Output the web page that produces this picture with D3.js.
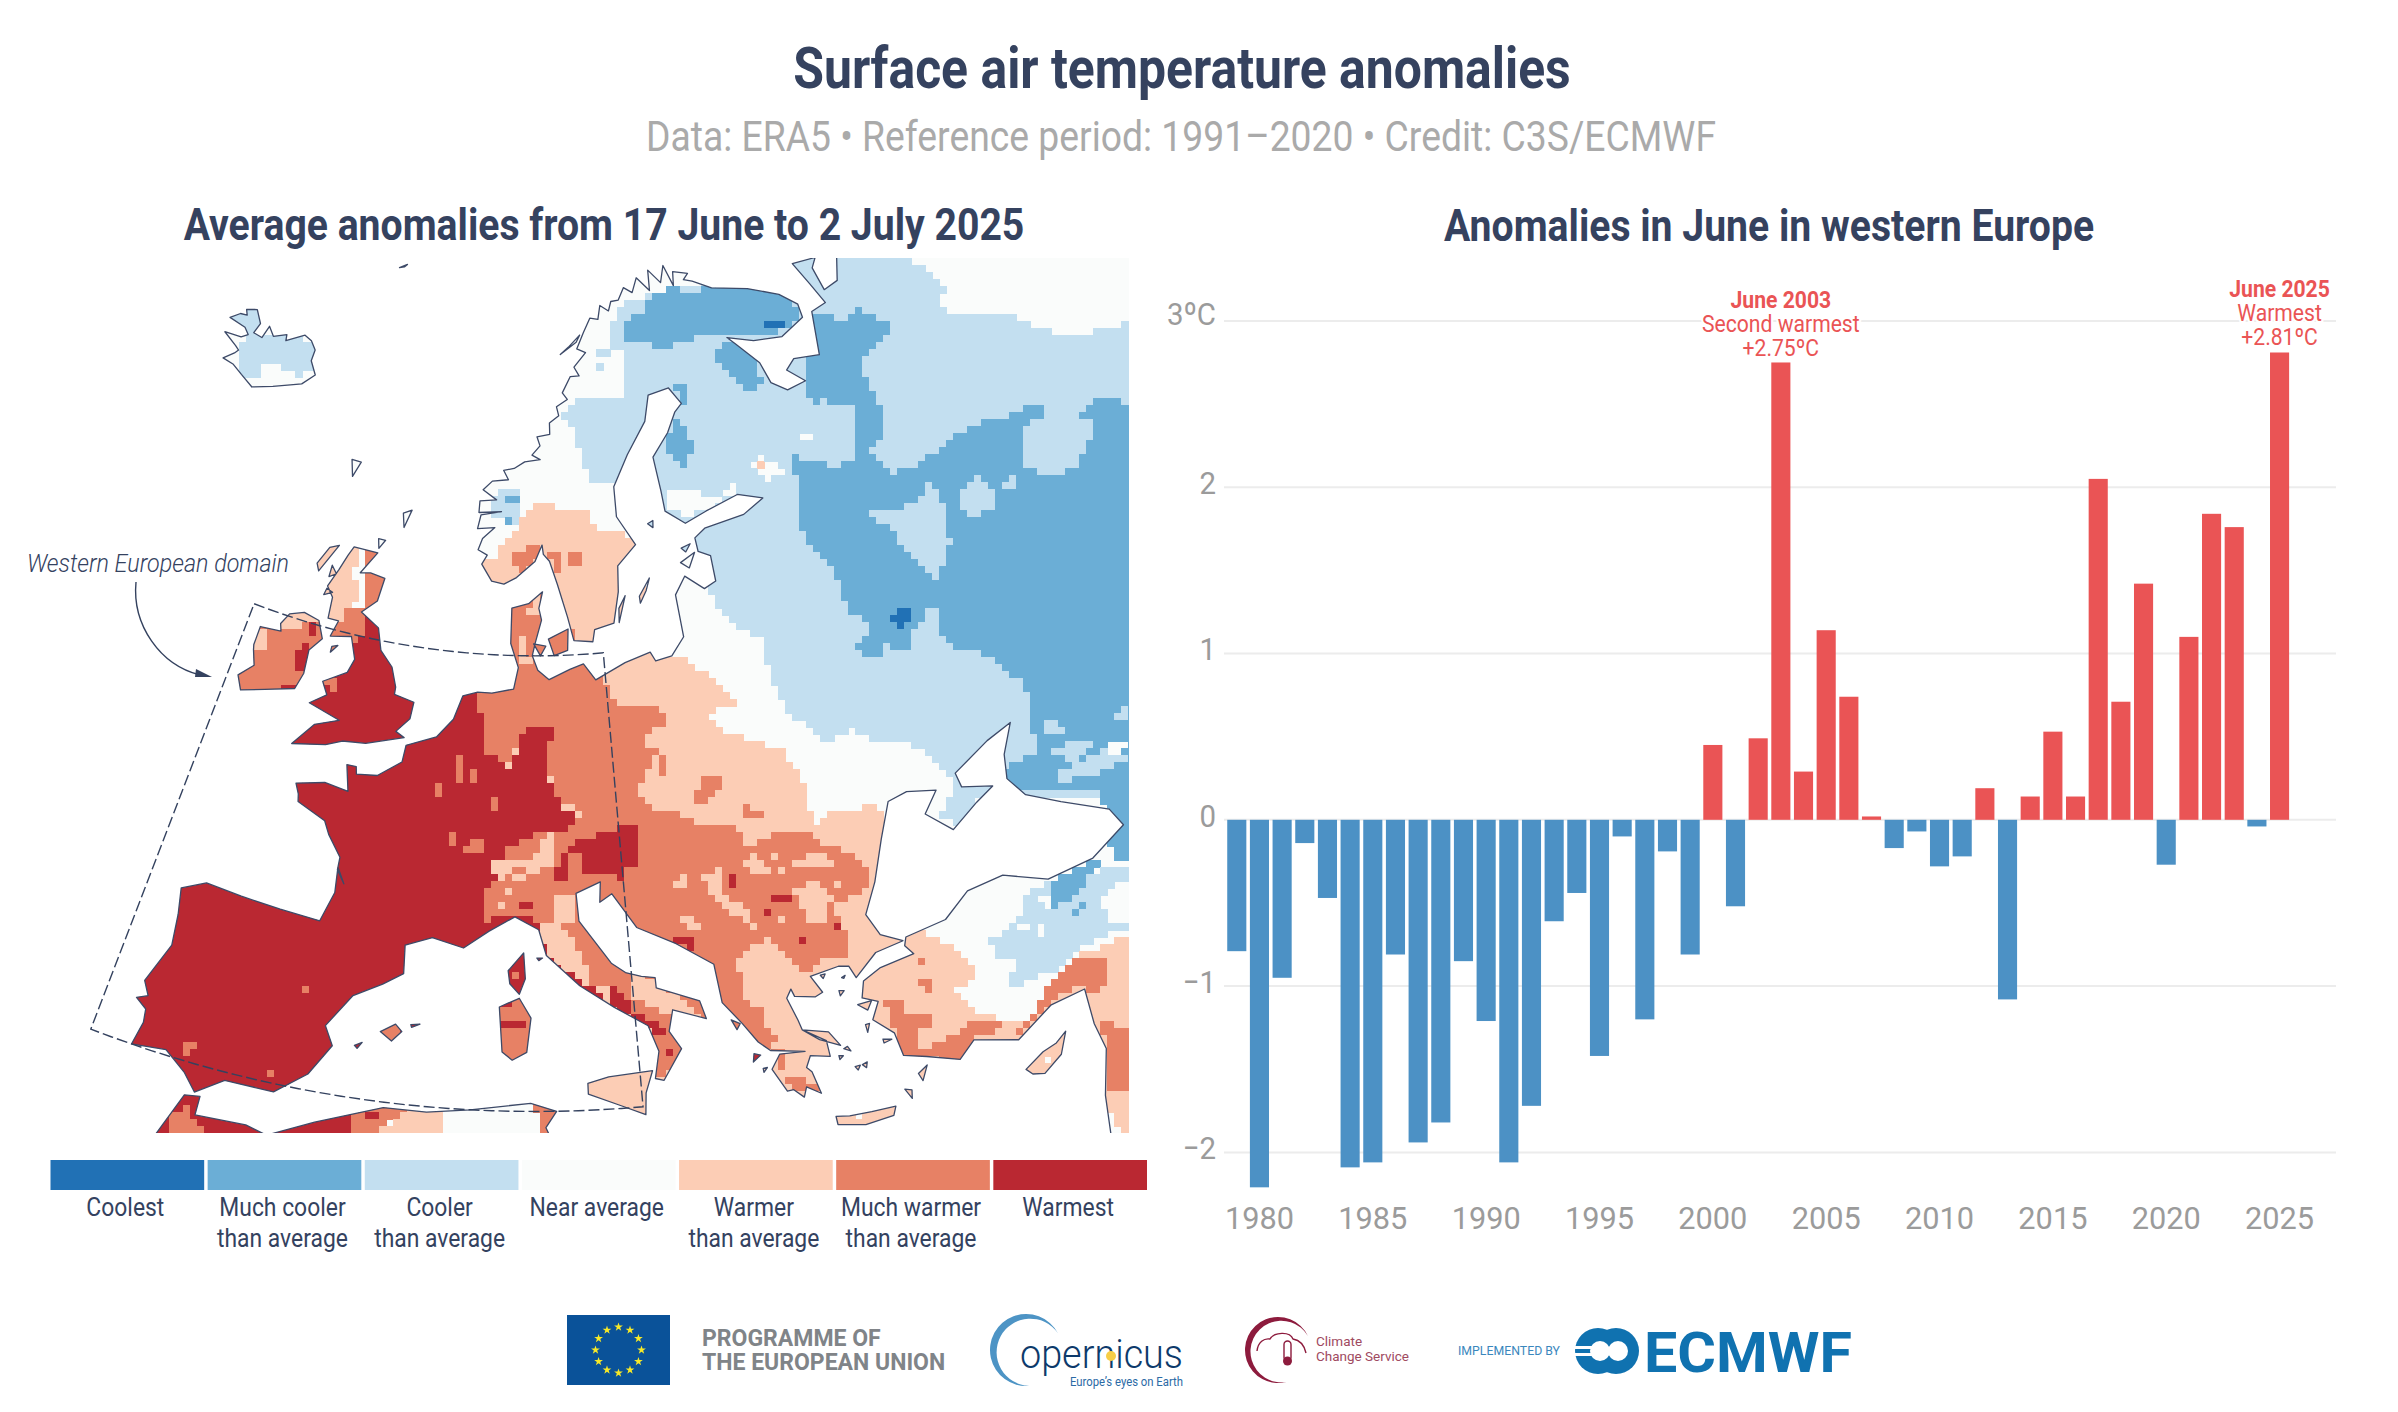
<!DOCTYPE html>
<html>
<head>
<meta charset="utf-8">
<script src="https://cdnjs.cloudflare.com/ajax/libs/d3/7.8.5/d3.min.js"></script>
<style>
  html, body { margin: 0; padding: 0; background: #fff; }
  svg { display: block; }
  text { font-family: Roboto, sans-serif; }
</style>
</head>
<body>
<div id="chart"></div>
<script>
// ---- bar chart data ----
const years = d3.range(1979, 2026)
const anomalies = [
  -0.79, -2.21, -0.95, -0.14, -0.47, -2.09, -2.06, -0.81, -1.94, -1.82,
  -0.85, -1.21, -2.06, -1.72, -0.61, -0.44, -1.42, -0.10, -1.20, -0.19,
  -0.81, 0.45, -0.52, 0.49, 2.75, 0.29, 1.14, 0.74, 0.02, -0.17,
  -0.07, -0.28, -0.22, 0.19, -1.08, 0.14, 0.53, 0.14, 2.05, 0.71,
  1.42, -0.27, 1.10, 1.84, 1.76, -0.04, 2.81
]
const yearTicks = [1980, 1985, 1990, 1995, 2000, 2005, 2010, 2015, 2020, 2025]
const valueTicks = [-2, -1, 0, 1, 2, 3]

// ---- legend data ----
const legendLabels = [
  ['Coolest'],
  ['Much cooler', 'than average'],
  ['Cooler', 'than average'],
  ['Near average'],
  ['Warmer', 'than average'],
  ['Much warmer', 'than average'],
  ['Warmest']
]
const classColors = ['#2171b5', '#6baed6', '#c3dff0', '#fafcfb', '#fccdb5', '#e78165', '#ba2832']
const COOLEST = 0, MUCH_COOLER = 1, COOLER = 2, NEAR = 3, WARMER = 4, MUCH_WARMER = 5, WARMEST = 6

// ---- coastlines, lon/lat ----
const mainland = [
  [80,70],[70,73],[60,70],[54,68.5],[48,67.7],[46.5,66.9],[44.7,66.9],[45,68],[46,68.3],[43.3,68.65],[43.7,67.5],[44,66.4],[42.2,66.4],
  [40.5,64.6],[38,65],[36.8,64.7],[38,63.9],[36,63.9],[34.8,64.5],[34.6,65.5],[33,66.7],[32.4,67.1],[35,66.5],[38,66.1],[41,66.4],[41.3,67],[40,67.8],
  [37,68.7],[33,69.4],[31,70],[30,70.2],[30.8,70.4],[29,70.7],[28.5,70.1],[28,71.1],[27,70.4],[25.8,71.1],[25.3,70.2],[24,70.9],[23,70.3],[22,70.6],
  [21,70.1],[20,70.1],[19.5,69.7],[18.5,70],[18,69.4],[17,69.5],[16,68.9],[15,68.2],[16,68],[14.5,67.4],[15,67],[14,67],[13,66.3],[13.5,66],[12.3,65.7],
  [12.5,65.3],[11.5,65],[11.5,64.5],[10.2,64.4],[10.5,64],[9.7,63.6],[10.5,63.4],[9,63.3],[8,63],[7,62.9],[7.5,62.5],[6,62.4],[5.2,62],[6.5,61.6],[5,61.5],
  [5,61],[7,61.1],[5.2,60.9],[5,60.3],[6.5,60.4],[5.5,59.9],[5.2,59.4],[6,59.2],[5.6,58.8],[6.5,58.1],[7.5,58],[8.5,58.3],[10,59],[10.6,59.7],[10.7,59.3],
  [11.2,59],[11.8,58],[12.5,56.6],[12.9,55.6],[14.3,55.5],[14.5,56],[16,56.2],[16.6,57.5],[16.8,58.6],[18.5,59.4],[17.2,60.7],[17.3,62],[19,63.3],[21.3,64.6],
  [22.2,65.7],[24.5,65.8],[25.4,65],[24.5,64.7],[23.3,63.9],[21.4,63],[21.5,61.5],[21.5,60.6],[23,59.9],[25,60.2],[28,60.5],[30,60],[28,59.6],[24.5,59.5],
  [23.5,59.2],[23.5,58.6],[24.4,58.3],[24.3,57.2],[23.3,57],[22,57.7],[21,57],[21,56],[21,55.2],[19.9,54.5],[18.7,54.4],[18.4,54.8],[16.5,54.5],[14.3,53.9],
  [13.5,54.6],[12.5,54.4],[11,54],[10.2,54.4],[9.8,55],[10,55.5],[10.5,56.5],[10.3,57],[10.6,57.7],[9.5,57.2],[8.2,57],[8.2,55.5],[8.8,54.5],[8.5,53.6],[7,53.4],
  [6,53.4],[5,53.2],[4.5,52.2],[3.5,51.4],[1.6,50.9],[1.5,50.2],[0.1,49.5],[-1.2,49.4],[-1.3,49.7],[-1.9,49.7],[-1.5,48.65],[-3,48.8],[-4.7,48.5],[-4.4,48.1],
  [-4.3,47.8],[-2.5,47.3],[-2.1,46.8],[-1.2,46],[-1.2,45.5],[-0.7,45],[-1.2,45.6],[-1.1,44.6],[-1.6,43.4],[-3.8,43.5],[-6,43.6],[-8,43.7],[-9.2,43.2],[-8.9,42.2],
  [-8.7,41],[-9.4,39.4],[-9,38.9],[-9.5,38.7],[-8.9,38.4],[-8.8,37.9],[-9,37],[-7.4,37.2],[-6.3,36.6],[-5.6,36],[-4.4,36.7],[-2.1,36.7],[-0.7,37.6],[0.2,38.8],
  [-0.3,39.5],[0.8,40.8],[2.2,41.4],[3.2,41.9],[3.1,43],[4.5,43.4],[6.2,43.1],[7.5,43.8],[8.9,44.4],[10.2,43.9],[10.6,42.9],[12.3,41.7],[14,40.8],[15.6,40],
  [16,39],[15.7,38],[16.1,37.9],[17.1,39],[16.6,39.7],[16.9,40.5],[18.5,40],[18.3,40.7],[16.2,41.4],[16.2,41.8],[15.5,41.9],[14.7,42.1],[14,42.5],[12.4,44.2],[12.3,45.3],[13.7,45.7],[13.6,44.9],
  [14.3,45.2],[15.5,43.8],[17.5,43],[19.3,42],[19.4,40.5],[20.2,39.6],[20.8,38.8],[21.3,38.4],[22.9,38.1],[21.7,38.2],[21.2,37.7],[21.7,36.8],[22,36.8],[22.4,36.45],
  [22.6,36.8],[23.2,36.45],[23,37.3],[22.8,37.5],[23.1,37.9],[24,37.7],[24,38.3],[23,38.9],[22.9,39.3],[22.6,40.2],[22.9,40.5],[23,40.2],[24,40],[24.4,40.1],[24,40.8],
  [25.5,40.9],[26,40.8],[26.2,40.3],[27.5,41],[29,41.1],[28,41.6],[27.6,42.5],[28.6,43.6],[29.7,45.1],[30.8,46.4],[32,46.5],[33.6,46.1],[32.5,45.4],[33.6,44.4],[35.4,45],
  [36.6,45.3],[35,45.8],[35,46.4],[37.5,47],[39.2,47.2],[38,46.2],[37.5,45.3],[38,44.4],[39.5,43.5],[41.5,42.3],[41.7,41.5],[39.5,41],[37,41.1],[35,42],[33,42],
  [31.4,41.3],[29.2,41.2],[29,40.9],[29.3,40.5],[27.5,40.4],[26.5,40.1],[26.2,39.5],[26.9,39.2],[26.4,38.6],[27.2,37.9],[27.3,37],[28.3,36.7],[29.7,36.2],
  [30.6,36.7],[32.5,36.1],[34.5,36.8],[36.2,36.8],[35.9,35.5],[35.9,34.5],[35,33],[34.4,31.3],[34.4,28],[80,28]
]
const islands = [
  // Iceland
  [[-22.4,66.45],[-21.3,66],[-21.4,65.5],[-20.4,65.5],[-20.3,66.1],[-19.4,65.8],[-18.2,66.15],[-18,65.9],[-16.4,66.5],[-15.5,66.4],[-14.7,66.1],[-14.6,65.6],[-13.6,65.1],[-14.5,64.5],[-15.5,64.25],[-17,63.85],[-18.8,63.4],[-20.3,63.65],[-21.5,63.85],[-22.7,63.85],[-22,64.3],[-21.8,64.5],[-22.3,64.6],[-24,64.85],[-22.3,65.05],[-21.8,65.3],[-22.5,65.5],[-24.4,65.5],[-23.7,65.9],[-23,66],[-23.4,66.2]],
  // Ireland, Britain
  [[-10,54.2],[-8.5,54.3],[-8.7,54.6],[-8.3,55.1],[-7.3,55.35],[-6.1,55.2],[-5.5,54.5],[-6.2,53.9],[-6.1,52.9],[-6.4,52.2],[-8.3,51.8],[-9.8,51.45],[-10.3,52],[-9.5,52.6],[-9.9,53.2],[-10,53.4]],
  [[-5,58.6],[-3,58.6],[-4,57.6],[-3.2,57.7],[-2,57.6],[-2.2,56.6],[-3.2,56],[-1.7,55.5],[-1.2,54.6],[-0.2,54],[0.3,53.2],[0.3,52.9],[1.7,52.7],[1.6,52],[0.8,51.4],[1.4,51.2],[-1,50.7],[-2.5,50.6],[-3.5,50.3],[-5.6,50],[-4.5,51],[-3,51.4],[-5.2,51.8],[-4.2,52.3],[-4.7,52.8],[-3.2,53.4],[-2.9,54],[-3.5,54.9],[-5,54.7],[-4.7,55.4],[-5.5,55.4],[-5.6,56.3],[-6.2,56.7],[-5.7,57.5],[-5.3,58.2]],
  // small Atlantic ones
  [[-7.2,57.2],[-6.2,58.5],[-6.9,58.3],[-7.5,57.5]],[[-6.3,57.6],[-5.8,57.3],[-6.3,57.1]],[[-6.2,56.6],[-5.7,56.5],[-6.3,56.3]],
  [[-3.2,59.2],[-2.6,59.2],[-3,58.8]],[[-1.6,60.5],[-0.9,60.7],[-1.3,59.9]],[[-7.3,62.2],[-6.4,62.2],[-6.8,61.5]],
  [[-8.9,70.9],[-8,71.15],[-8.3,71]],[[13,68],[15,68.5],[15.5,68.8],[14,68.3]],[[-4.7,54.3],[-4.3,54.4],[-4.7,54.05]],
  // Baltic
  [[9.9,55.5],[10.8,55.4],[10.4,55]],[[11,55.7],[12.5,56.1],[12.4,55.2],[11.4,55]],[[18.2,57.2],[19.2,57.9],[18.8,57.4],[18.2,56.9]],
  [[16.4,56.2],[17.1,57.3],[16.5,56.8]],[[21.9,58.3],[23.2,58.6],[22.5,58]],[[22.2,58.9],[23,59],[22.5,58.7]],[[19.8,60.2],[20.3,60.3],[20.2,60]],
  // Mediterranean
  [[-6,35.8],[-5.3,35.9],[-5.3,35.2],[-3,35.3],[-2,35.1],[0,35.9],[3,36.8],[5,36.8],[7,37],[9.8,37.3],[11,37],[10.5,36.4],[11,35.5],[10.5,34],[20,30],[-10,30],[-7,33.5]],
  [[2.4,39.6],[3.1,39.95],[3.45,39.7],[3,39.3]],[[3.85,40],[4.3,40.05],[3.9,39.9]],[[1.25,38.95],[1.6,39.1],[1.4,38.85]],
  [[8.2,40.9],[9.2,41.25],[9.8,40.5],[9.6,39.2],[8.9,38.9],[8.4,39.2]],[[8.6,42.3],[9.4,43],[9.5,42],[9.2,41.4],[8.7,41.8]],
  [[12.5,38],[13.5,38.2],[15.6,38.3],[15.2,37.5],[15.1,36.7],[14,37.1],[12.5,37.6]],[[10.1,42.8],[10.4,42.8],[10.2,42.7]],
  [[23.6,35.5],[24.2,35.4],[25.2,35.35],[26.3,35.3],[26.1,35],[24.8,34.95],[23.6,35.2]],[[32.3,35],[33.3,35.35],[34,35.45],[34.6,35.7],[34,35],[33,34.6],[32.5,34.75]],
  [[19.7,39.8],[20.1,39.6],[19.9,39.4]],[[20.5,38.4],[20.8,38.3],[20.4,38.1]],[[20.8,37.8],[21,37.8],[20.8,37.65]],
  [[23,38.9],[24.2,38.6],[24.6,38],[23.7,38.4]],[[25.9,39.3],[26.6,39.3],[26.3,39]],[[26,38.5],[26.2,38.5],[26,38.2]],[[26.6,37.8],[27,37.7],[26.6,37.65]],
  [[27.7,36.2],[28.2,36.4],[27.8,35.9]],[[25.35,37.1],[25.6,37.15],[25.5,36.95]],[[25,37.1],[25.25,37.1],[25.1,36.95]],[[24.9,37.9],[25,37.7],[24.7,37.85]],
  [[26.9,35.8],[27.2,35.7],[27.1,35.4]],[[24.5,40.75],[24.75,40.75],[24.6,40.6]],[[25.7,40.5],[25.5,40.45],[25.6,40.4]],[[25.2,40],[25.45,39.95],[25.2,39.8]],[[24.4,37.65],[24.6,37.6],[24.4,37.5]]
]

// ---- anomaly classes: outlines on the raster grid, painted in order ----
// [gridTile, class, outline]
const anomalyAreas = [
  [1, COOLER, [[15,200],[60,140],[250,90],[560,0],[890,0],[1020,95],[990,150],[1050,185],[1190,175],[1290,215],[1380,245],[1566,205],[1700,205],[1700,1400],[560,1400],[490,1270],[470,1150],[380,1110],[320,1030],[250,900],[150,900],[20,680],[0,680],[-56,690],[-66,640],[-96,530],[-136,480],[-96,430],[0,420],[60,440],[60,280],[15,280]]],
  [3, COOLER, [[550,0],[650,125],[730,85],[810,125],[860,115],[940,140],[1020,210],[1045,265],[1000,350],[1060,380],[1110,300],[1566,300],[1700,300],[1700,0]]],
  [3, COOLER, [[1150,720],[1240,650],[1240,610],[1290,560],[1340,540],[1700,470],[1700,620],[1530,690],[1400,750],[1340,810],[1210,860],[1180,790]]],
  [0, COOLER, [[1210,745],[1240,710],[1300,695],[1310,760],[1280,820],[1250,780],[1210,780]]],
  [0, COOLER, [[1540,290],[1566,290],[1566,305],[1540,305]]],
  [0, COOLER, [[1530,325],[1548,325],[1548,342],[1530,342]]],
  [0, COOLER, [[540,310],[580,330],[640,360],[690,340],[695,300],[680,260],[600,240],[540,240],[500,240],[470,260],[460,350],[510,375]]],
  [0, COOLER, [[430,175],[520,155],[520,230],[480,240]]],
  [1, NEAR, [[180,760],[175,720],[190,700],[270,705],[310,730],[380,685],[405,700],[345,740],[240,790]]],
  [1, NEAR, [[435,620],[470,600],[530,640],[530,665],[470,675],[440,650]]],
  [1, NEAR, [[570,540],[600,525],[620,555],[600,555]]],
  [1, WARMER, [[455,622],[470,622],[470,638],[455,638]]],

  [1, MUCH_COOLER, [[55,215],[80,170],[120,165],[125,135],[160,105],[220,100],[240,120],[330,85],[540,110],[580,170],[540,220],[450,250],[280,240],[220,265],[175,280],[100,265],[60,250]]],
  [1, MUCH_COOLER, [[325,310],[345,250],[400,265],[450,300],[465,395],[430,410],[390,370],[335,335]]],
  [1, MUCH_COOLER, [[175,570],[205,490],[245,540],[265,590],[220,640],[185,600]]],
  [1, MUCH_COOLER, [[205,385],[240,390],[250,425],[225,460]]],
  [1, MUCH_COOLER, [[600,370],[590,310],[630,285],[600,260],[610,180],[660,170],[705,205],[750,155],[860,210],[760,320],[790,400],[835,490],[820,560],[790,590],[860,650],[920,635],[1020,570],[1085,510],[1200,490],[1270,440],[1300,440],[1335,475],[1290,490],[1245,520],[1245,570],[1250,630],[1330,670],[1400,640],[1430,580],[1465,510],[1420,480],[1480,415],[1700,500],[1700,1400],[1290,1400],[1250,1290],[1170,1220],[1110,1190],[1040,1185],[1000,1130],[1000,1060],[965,1060],[920,1130],[920,1170],[880,1190],[830,1165],[830,1215],[760,1190],[740,1165],[800,1130],[760,1075],[720,1070],[700,1000],[680,950],[620,890],[580,820],[570,680],[540,610],[560,600],[600,625],[690,630],[750,620],[750,530],[735,480],[735,440],[680,450],[640,430],[625,450],[600,410]]],
  [1, COOLER, [[780,770],[810,755],[830,775],[945,730],[970,670],[1015,770],[1030,870],[1000,950],[985,975],[960,950],[890,890],[850,810],[830,820]]],
  [1, COOLER, [[1050,710],[1115,665],[1170,720],[1150,770],[1085,790]]],
  [1, COOLER, [[1180,680],[1220,660],[1225,690],[1200,710]]],
  [3, MUCH_COOLER, [[1265,60],[1290,-10],[1700,-10],[1700,420],[1520,490],[1480,270],[1160,265],[1205,195],[1300,150]]],
  [3, MUCH_COOLER, [[1340,540],[1480,470],[1420,580],[1340,620]]],
  [3, MUCH_COOLER, [[1385,630],[1430,610],[1430,630],[1390,645]]],
  [3, COOLER, [[1315,70],[1345,50],[1370,100],[1325,105]]],
  [3, COOLER, [[1335,160],[1390,115],[1460,125],[1400,190]]],
  [3, COOLER, [[1340,220],[1520,130],[1566,170],[1460,225],[1350,245]]],
  [3, COOLER, [[1520,60],[1566,10],[1566,50]]],
  [3, NEAR, [[1480,150],[1530,115],[1566,135],[1540,170]]],
  [3, MUCH_COOLER, [[1200,735],[1215,735],[1215,755],[1200,755]]],
  [3, NEAR, [[1180,790],[1220,775],[1225,815],[1190,825]]],
  [3, NEAR, [[1290,670],[1305,670],[1315,710],[1300,710]]],
  [3, NEAR, [[1235,680],[1265,665],[1265,690],[1240,695]]],
  [3, NEAR, [[1295,590],[1330,575],[1340,610],[1305,625]]],
  [3, NEAR, [[1480,600],[1566,520],[1700,520],[1700,610],[1520,680]]],

  [1, COOLEST, [[460,215],[500,195],[525,205],[520,220],[480,225]]],
  [1, COOLEST, [[850,1095],[865,1065],[910,1070],[905,1105],[875,1115]]],
  [0, MUCH_COOLER, [[1270,715],[1310,715],[1310,745],[1270,745]]],
  [0, MUCH_COOLER, [[1265,780],[1280,780],[1280,815],[1265,815]]],

  // warm south and east
  [3, WARMER, [[-50,-150],[130,-145],[230,-120],[290,-85],[390,15],[300,35],[350,90],[430,125],[530,150],[560,210],[600,260],[590,310],[650,345],[810,315],[825,350],[830,600],[890,700],[950,695],[1040,740],[1110,820],[1040,870],[1100,930],[1180,960],[1280,960],[1330,900],[1330,840],[1400,770],[1700,650],[1700,1300],[-100,1300],[-500,800],[-500,-150]]],
  [0, WARMER, [[1170,900],[1245,920],[1245,880],[1290,820],[1345,755],[1385,745],[1410,730],[1420,765],[1495,760],[1530,825],[1680,850],[1680,1200],[1450,1250],[1170,1000]]],
  [0, MUCH_WARMER, [[1290,890],[1365,870],[1365,900],[1320,950],[1290,940]]],
  [0, MUCH_WARMER, [[1390,890],[1415,890],[1430,950],[1400,935]]],
  [0, MUCH_WARMER, [[1455,885],[1490,885],[1490,935],[1455,935]]],
  [3, NEAR, [[595,310],[620,295],[645,365],[625,370]]],
  [3, NEAR, [[465,265],[500,255],[500,275],[470,280]]],

  [3, MUCH_WARMER, [[-386,-335],[-196,-335],[-166,-235],[-106,-215],[-96,-155],[-20,-120],[0,-35],[40,15],[125,10],[160,20],[185,70],[130,85],[110,130],[150,155],[125,215],[95,270],[130,320],[190,335],[280,370],[380,385],[425,435],[500,400],[610,400],[650,440],[700,440],[795,515],[780,570],[720,600],[670,595],[725,730],[720,785],[650,770],[610,825],[535,765],[480,710],[400,770],[385,800],[430,850],[400,880],[470,935],[470,970],[520,1010],[480,1050],[300,1000],[170,1130],[140,1135],[140,1000],[80,950],[0,860],[-46,855],[-66,800],[-96,720],[-146,660],[-370,660],[-360,570],[-310,530],[-250,540],[-166,500],[-166,400],[-76,345],[-146,290],[-186,180],[-166,90],[-246,90],[-270,140],[-296,180],[-316,260],[-316,180],[-366,170],[-386,80]]],
  [3, MUCH_WARMER, [[260,295],[285,225],[340,235],[340,255],[310,290],[280,335]]],
  [3, MUCH_WARMER, [[415,310],[470,345],[460,360],[415,345]]],
  [3, MUCH_WARMER, [[150,185],[170,170],[170,225],[150,225]]],
  [3, MUCH_WARMER, [[490,1040],[540,1050],[530,1140],[600,1140],[640,1170],[600,1190],[540,1160]]],
  [3, MUCH_WARMER, [[930,780],[950,780],[950,795],[930,795]]],
  [3, MUCH_WARMER, [[925,850],[960,840],[990,850],[975,890],[950,870]]],
  [3, MUCH_WARMER, [[830,900],[880,900],[890,950],[965,945],[970,985],[920,1000],[940,1050],[1060,1000],[1100,960],[1180,960],[1200,980],[1100,1000],[1100,1080],[1000,1080],[880,1060],[860,980]]],
  [3, MUCH_WARMER, [[1100,990],[1230,1000],[1290,930],[1330,840],[1400,780],[1490,780],[1500,850],[1460,900],[1420,850],[1340,900],[1280,960],[1260,990],[1230,1010]]],
  [3, MUCH_WARMER, [[1480,960],[1700,1020],[1700,1180],[1510,1180],[1500,1040]]],
  // warmer holes in the Balkans
  [3, WARMER, [[180,560],[240,515],[255,550],[215,575]]],
  [3, WARMER, [[220,655],[270,650],[275,685],[240,680]]],
  [3, WARMER, [[285,530],[335,505],[345,590],[420,620],[445,690],[420,660],[350,625],[310,590]]],
  [3, WARMER, [[410,490],[440,465],[490,510],[450,530]]],
  [3, WARMER, [[490,470],[510,460],[515,480],[495,490]]],
  [3, WARMER, [[510,505],[640,455],[680,490],[610,510],[540,510],[525,530]]],
  [3, WARMER, [[555,570],[580,565],[580,585],[555,585]]],
  [3, WARMER, [[580,610],[590,540],[615,535],[640,555],[680,590],[650,600],[660,660],[600,680]]],
  [3, WARMER, [[675,555],[705,545],[710,570],[685,575]]],
  [3, WARMER, [[515,655],[530,655],[530,675],[515,675]]],
  [3, WARMER, [[120,290],[155,285],[155,300],[125,310]]],
  [3, WARMER, [[60,820],[130,830],[295,950],[240,960],[150,930],[80,900]]],
  [3, WARMER, [[400,790],[440,740],[490,710],[530,780],[590,830],[600,1000],[500,1000],[470,890],[400,850]]],
  [3, NEAR, [[1320,1060],[1350,1060],[1340,1080],[1320,1080]]],
  [3, NEAR, [[745,1225],[775,1230],[775,1260],[745,1265]]],
  [3, NEAR, [[1510,1230],[1540,1300],[1510,1300]]],

  // British Isles
  [0, MUCH_WARMER, [[440,1050],[720,1050],[720,1330],[440,1330]]],
  [0, WARMER, [[590,1060],[680,1060],[665,1100],[620,1130],[590,1130]]],
  [0, WARMER, [[505,1125],[535,1125],[545,1190],[505,1190]]],
  [0, WARMEST, [[675,1110],[700,1110],[695,1150],[675,1145]]],
  [0, WARMEST, [[650,1160],[670,1160],[665,1250],[640,1250],[640,1190]]],
  [0, MUCH_WARMER, [[720,1060],[840,1060],[840,860],[940,960],[850,1100],[840,1200],[720,1200]]],
  [0, WARMER, [[680,850],[800,870],[830,885],[795,960],[830,1000],[780,1070],[760,1110],[680,1110]]],
  [0, WARMEST, [[835,1075],[870,1075],[885,1155],[1050,1340],[1050,1600],[500,1600],[500,1330],[750,1250],[790,1200],[830,1140]]],
  [0, MUCH_WARMER, [[715,1280],[750,1260],[755,1300],[740,1325]]],
  [2, MUCH_WARMER, [[715,10],[745,40],[730,50]]],

  // France, Iberia and the western Alps
  [2, WARMEST, [[500,0],[1180,0],[1205,170],[1260,180],[1245,265],[1285,180],[1320,90],[1410,90],[1380,180],[1380,235],[1420,290],[1440,340],[1490,345],[1470,380],[1380,400],[1280,440],[1250,470],[1200,480],[1240,530],[1205,570],[1205,660],[1270,640],[1360,665],[1380,760],[1500,860],[1566,880],[1300,1150],[500,1180],[0,1180],[0,0]]],
  [2, WARMEST, [[1100,-40],[1180,-40],[1180,5],[1100,5]]],
  [2, MUCH_WARMER, [[1205,570],[1240,530],[1300,550],[1380,500],[1420,510],[1460,570],[1470,650],[1380,660],[1280,640],[1205,660]]],
  [2, WARMEST, [[1300,610],[1340,605],[1340,628],[1300,628]]],
  [2, WARMER, [[1410,590],[1465,590],[1470,660],[1410,660]]],
  [2, WARMER, [[1250,590],[1260,590],[1260,625],[1248,625]]],
  [2, WARMER, [[1262,570],[1290,570],[1290,585],[1262,585]]],
  [2, WARMEST, [[1480,420],[1660,370],[1660,495],[1615,500],[1615,540],[1566,520],[1520,520],[1400,540],[1430,470]]],
  [2, MUCH_WARMER, [[1450,460],[1500,460],[1500,520],[1450,520]]],
  [3, WARMEST, [[0,850],[40,875],[80,930],[135,965],[170,985],[165,1010],[80,960],[0,910]]],
  // small patches inside the warmest class
  [2, MUCH_WARMER, [[1105,170],[1135,170],[1140,240],[1105,240]]],
  [2, MUCH_WARMER, [[1150,210],[1175,210],[1175,245],[1155,245]]],
  [2, MUCH_WARMER, [[1040,255],[1075,255],[1075,275],[1060,290],[1045,280]]],
  [2, MUCH_WARMER, [[1220,290],[1245,290],[1230,325],[1220,320]]],
  [2, MUCH_WARMER, [[1100,395],[1112,395],[1110,445],[1085,440]]],
  [2, MUCH_WARMER, [[1135,450],[1165,415],[1200,420],[1200,450],[1165,465]]],
  [2, MUCH_WARMER, [[1200,475],[1225,475],[1225,490],[1200,490]]],
  [2, MUCH_WARMER, [[1250,460],[1290,430],[1340,405],[1380,405],[1350,475],[1280,475]]],
  [2, MUCH_WARMER, [[1290,495],[1315,495],[1315,512],[1290,512]]],
  [2, MUCH_WARMER, [[708,740],[740,745],[735,760],[708,755]]],
  [2, MUCH_WARMER, [[565,850],[580,850],[580,868],[565,868]]],
  [2, MUCH_WARMER, [[658,850],[690,855],[670,890],[652,885]]],
  [2, MUCH_WARMER, [[280,1040],[305,1025],[328,1035],[318,1070],[280,1055]]],
  [2, MUCH_WARMER, [[540,1108],[572,1115],[568,1135],[536,1128]]],
  [3, WARMEST, [[365,530],[395,530],[395,570],[365,570]]],
  [3, WARMEST, [[515,575],[545,575],[545,615],[515,615]]],
  [3, WARMEST, [[487,585],[503,585],[503,603],[487,603]]],
  [3, WARMEST, [[468,628],[482,628],[482,645],[468,645]]],
  [3, WARMEST, [[685,672],[702,672],[702,692],[685,692]]],
  [3, WARMEST, [[578,720],[593,720],[593,740],[578,740]]],
  [3, WARMEST, [[68,292],[82,292],[82,310],[68,310]]],
  [3, WARMEST, [[205,720],[255,710],[255,745]]],
  [3, WARMEST, [[340,790],[355,790],[355,810],[340,810]]],
  [3, WARMEST, [[430,1040],[480,1040],[480,1110],[430,1110]]],
  [3, WARMEST, [[180,1055],[195,1055],[195,1075],[180,1075]]],
  // islands
  [2, MUCH_WARMER, [[880,955],[955,955],[955,1030],[880,1030]]],
  [2, MUCH_WARMER, [[1240,880],[1350,880],[1350,1090],[1240,1090]]],
  [2, WARMEST, [[1240,880],[1290,880],[1290,920],[1240,930]]],
  [2, WARMEST, [[1245,955],[1295,955],[1295,980],[1245,980]]],
  [2, WARMEST, [[1305,955],[1330,955],[1330,980],[1305,980]]],
  [2, MUCH_WARMER, [[1280,815],[1310,815],[1310,840],[1280,840]]],
  // north Africa
  [2, WARMEST, [[100,1340],[300,1170],[800,1170],[800,1340]]],
  [2, WARMEST, [[700,1180],[880,1180],[880,1340],[700,1340]]],
  [2, MUCH_WARMER, [[230,1340],[260,1240],[305,1215],[305,1255],[345,1265],[380,1340]]],
  [2, MUCH_WARMER, [[790,1340],[800,1240],[830,1215],[880,1215],[985,1205],[950,1245],[890,1280],[880,1340]]],
  [2, WARMEST, [[830,1230],[880,1225],[880,1245],[835,1265],[830,1265]]],
  [2, WARMER, [[880,1340],[890,1285],[950,1245],[990,1215],[1066,1200],[1066,1340]]],
  [2, MUCH_WARMER, [[1330,1190],[1430,1210],[1400,1340],[1360,1340],[1360,1250]]],
  // Denmark details
  [0, WARMER, [[1295,1140],[1315,1140],[1315,1215],[1295,1215]]],
  [0, WARMER, [[1305,1205],[1335,1205],[1335,1225],[1305,1225]]],
  [0, WARMER, [[1330,1065],[1355,1065],[1355,1085],[1330,1085]]],
  [0, WARMER, [[1340,1000],[1380,1000],[1360,1060],[1335,1060]]]
]
const gridTiles = [[0, 0], [1566, 0], [0, 1335], [1566, 1335]]

// Western European domain, degrees
const domainWest = -11, domainEast = 15, domainNorth = 55, domainSouth = 37

const width = 2398, height = 1412
const navy = '#34425f'

const svg = d3.select('#chart').append('svg').attr('width', width).attr('height', height)

// Roboto Condensed is not installed, so squeeze Roboto to the same width
function squeeze(selection, factor) {
  selection.each(function () {
    let length = this.getComputedTextLength()
    d3.select(this).attr('textLength', length * factor).attr('lengthAdjust', 'spacingAndGlyphs')
  })
  return selection
}

function label(parent, text, x, y, size, weight, fill, anchor, factor) {
  return parent.append('text')
    .attr('x', x).attr('y', y)
    .attr('font-size', size).attr('font-weight', weight)
    .attr('fill', fill).attr('text-anchor', anchor || 'middle')
    .text(text)
    .call(squeeze, factor || 0.83)
}

// ---- titles ----
label(svg, 'Surface air temperature anomalies', 1182, 88, 57, 700, '#35425f', 'middle', 0.875)
label(svg, 'Data: ERA5 • Reference period: 1991–2020 • Credit: C3S/ECMWF', 1181, 151, 42, 400, '#aaaaaa', 'middle', 0.888)
label(svg, 'Average anomalies from 17 June to 2 July 2025', 604, 240, 44, 700, '#35425f', 'middle', 0.89)
label(svg, 'Anomalies in June in western Europe', 1769, 241, 44, 700, '#35425f', 'middle', 0.89)

// ---- map ----
const mapFrame = { left: 85, top: 258, right: 1129, bottom: 1133 }

const projection = d3.geoStereographic()
  .rotate([-10, -90])
  .scale(2486)
  .translate([535, -128])
  .clipAngle(170)
  .precision(0.1)

const ringLine = d3.line()
function ringPath(ring) {
  return ringLine(ring.map(d => projection(d))) + 'Z'
}
const landPath = [mainland].concat(islands).map(ringPath).join(' ')

let defs = svg.append('defs')
defs.append('clipPath').attr('id', 'map-frame').append('rect')
  .attr('x', mapFrame.left).attr('y', mapFrame.top)
  .attr('width', mapFrame.right - mapFrame.left)
  .attr('height', mapFrame.bottom - mapFrame.top)
defs.append('clipPath').attr('id', 'land').append('path').attr('d', landPath)

let mapGroup = svg.append('g').attr('clip-path', 'url(#map-frame)')

mapGroup.append('path').attr('d', landPath).attr('fill', classColors[NEAR])

// raster cells: each takes the class of the last area covering its centre
const gridX = d3.scaleLinear().domain([0, 3132]).range([85, 1129])
const gridY = d3.scaleLinear().domain([0, 2670]).range([255, 1145])
const cellX = d3.scaleBand().domain(d3.range(151)).range([85, 1142])
const cellY = d3.scaleBand().domain(d3.range(126)).range([258, 1140])

const areaRings = anomalyAreas.map(([tile, cls, outline]) => ({
  cls: cls,
  ring: outline.map(p => [p[0] + gridTiles[tile][0], p[1] + gridTiles[tile][1]])
}))

let cells = []
cellX.domain().forEach(col => {
  cellY.domain().forEach(row => {
    let u = gridX.invert(cellX(col) + cellX.bandwidth() / 2)
    let v = gridY.invert(cellY(row) + cellY.bandwidth() / 2)
    let cls = NEAR
    areaRings.forEach(area => {
      if (d3.polygonContains(area.ring, [u, v])) cls = area.cls
    })
    if (cls !== NEAR) cells.push({ col: col, row: row, cls: cls })
  })
})

mapGroup.append('g')
  .attr('clip-path', 'url(#land)')
  .selectAll('rect')
  .data(cells)
  .enter()
  .append('rect')
  .attr('x', d => cellX(d.col))
  .attr('y', d => cellY(d.row))
  .attr('width', cellX.bandwidth() + 0.5)
  .attr('height', cellY.bandwidth() + 0.5)
  .attr('fill', d => classColors[d.cls])
  .attr('shape-rendering', 'crispEdges')

mapGroup.append('path')
  .attr('d', landPath)
  .attr('fill', 'none')
  .attr('stroke', '#3d4a68')
  .attr('stroke-width', 1.3)
  .attr('stroke-linejoin', 'round')

// domain outline
const domainRing = []
  .concat(d3.range(domainWest, domainEast + 0.5, 1).map(lon => [lon, domainNorth]))
  .concat(d3.range(domainEast, domainWest - 0.5, -1).map(lon => [lon, domainSouth]))
svg.append('path')
  .attr('d', ringPath(domainRing))
  .attr('fill', 'none')
  .attr('stroke', navy)
  .attr('stroke-width', 1.4)
  .attr('stroke-dasharray', '11 4')

// domain label and arrow
label(svg, 'Western European domain', 158, 572, 26, 300, navy, 'middle', 0.87).attr('font-style', 'italic')
svg.append('path')
  .attr('d', 'M136,582 C132,625 160,665 200,675')
  .attr('fill', 'none').attr('stroke', navy).attr('stroke-width', 1.4)
svg.append('path')
  .attr('d', 'M212,677 L196,669 L195,677 Z')
  .attr('fill', navy)

// ---- legend ----
const legendX = d3.scaleBand().domain(d3.range(7)).range([50.5, 1147]).paddingInner(0.022).paddingOuter(0)

svg.append('g').selectAll('rect')
  .data(classColors)
  .enter()
  .append('rect')
  .attr('x', (d, i) => legendX(i))
  .attr('y', 1160)
  .attr('width', legendX.bandwidth())
  .attr('height', 30)
  .attr('fill', d => d)

legendLabels.forEach((lines, i) => {
  lines.forEach((line, k) => {
    label(svg, line, legendX(i) + legendX.bandwidth() / 2 - 2, 1216 + k * 31, 25, 400, navy, 'middle', 0.915)
  })
})

// ---- bars ----
const x = d3.scaleBand().domain(years).range([1225.45, 2290.9]).paddingInner(0.157).paddingOuter(0.0785)
const y = d3.scaleLinear().domain([-2, 3]).range([1152.4, 320.9])

svg.append('g').selectAll('line')
  .data(valueTicks)
  .enter()
  .append('line')
  .attr('x1', 1224).attr('x2', 2336)
  .attr('y1', d => y(d)).attr('y2', d => y(d))
  .attr('stroke', '#ececec').attr('stroke-width', 2)

svg.append('g').selectAll('rect')
  .data(anomalies)
  .enter()
  .append('rect')
  .attr('x', (d, i) => x(years[i]))
  .attr('y', d => y(Math.max(0, d)))
  .attr('width', x.bandwidth())
  .attr('height', d => Math.abs(y(d) - y(0)))
  .attr('fill', d => d > 0 ? '#ea5455' : '#4c91c5')

let xAxis = svg.append('g')
  .attr('transform', 'translate(0,1195)')
  .call(d3.axisBottom(x).tickValues(yearTicks).tickSize(0).tickPadding(11).tickFormat(d3.format('d')))
xAxis.select('.domain').remove()
xAxis.selectAll('text')
  .attr('font-size', 32).attr('fill', '#9b9b9b').attr('font-family', 'Roboto')
  .call(squeeze, 0.96)

let yAxis = svg.append('g')
  .attr('transform', 'translate(1222,0)')
  .call(d3.axisLeft(y).tickValues(valueTicks).tickSize(0).tickPadding(6)
    .tickFormat(d => d === 3 ? '3ºC' : d3.format('d')(d).replace('-', '−')))
yAxis.select('.domain').remove()
yAxis.selectAll('text')
  .attr('font-size', 32).attr('fill', '#9b9b9b').attr('font-family', 'Roboto')
  .attr('dy', d => d === 3 ? '0.12em' : '0.2em')
  .call(squeeze, 0.92)

// bar notes
function barNote(cx, baseline, lines) {
  lines.forEach((line, k) => {
    label(svg, line, cx, baseline + k * 24, 24, k === 0 ? 700 : 400, '#ea5455', 'middle', 0.88)
      .attr('stroke', '#fff').attr('stroke-width', 5).attr('paint-order', 'stroke')
      .attr('stroke-linejoin', 'round')
  })
}
barNote(x(2003) + x.bandwidth() / 2, 308, ['June 2003', 'Second warmest', '+2.75ºC'])
barNote(x(2025) + x.bandwidth() / 2, 297, ['June 2025', 'Warmest', '+2.81ºC'])

// ---- logos ----
function crescent(cx, cy, r, from, to, inner) {
  // thick on the left, tapering to both ends: the return arc is a tighter circle on the same chord
  let a0 = from * Math.PI / 180, a1 = to * Math.PI / 180
  let p0 = [cx + r * Math.cos(a0), cy + r * Math.sin(a0)]
  let p1 = [cx + r * Math.cos(a1), cy + r * Math.sin(a1)]
  return `M${p0} A${r},${r} 0 1 0 ${p1} A${inner},${inner} 0 1 1 ${p0} Z`
}

let logos = svg.append('g')

// EU flag
logos.append('rect').attr('x', 567).attr('y', 1315).attr('width', 103).attr('height', 70).attr('fill', '#0a5299')
logos.selectAll('.star')
  .data(d3.range(12))
  .enter()
  .append('path')
  .attr('class', 'star')
  .attr('d', d3.symbol(d3.symbolStar, 24))
  .attr('transform', d => `translate(${618.5 + 23 * Math.sin(d * Math.PI / 6)},${1350 - 23 * Math.cos(d * Math.PI / 6)})`)
  .attr('fill', '#f7e928')
label(logos, 'PROGRAMME OF', 702, 1346, 23, 700, '#808488', 'start', 1).attr('font-family', 'Liberation Sans')
label(logos, 'THE EUROPEAN UNION', 702, 1370, 23, 700, '#808488', 'start', 1).attr('font-family', 'Liberation Sans')

// Copernicus
logos.append('path').attr('d', crescent(1026, 1350, 36, -28, 85, 33.6)).attr('fill', '#4d94c5')
logos.append('text').attr('x', 1020).attr('y', 1368).attr('font-size', 40).attr('font-family', 'Lato').attr('font-weight', 300)
  .attr('fill', '#0d3a6b').attr('textLength', 163).attr('lengthAdjust', 'spacingAndGlyphs').text('opernicus')
logos.append('circle').attr('cx', 1111).attr('cy', 1356).attr('r', 5).attr('fill', '#f7ce46')
logos.append('text').attr('x', 1183).attr('y', 1386).attr('text-anchor', 'end').attr('font-size', 12.5).attr('font-family', 'Open Sans')
  .attr('fill', '#2b6aa5').attr('textLength', 113).attr('lengthAdjust', 'spacingAndGlyphs').text('Europe’s eyes on Earth')

// Climate Change Service
logos.append('path').attr('d', crescent(1278, 1350, 33, -25, 75, 30.8)).attr('fill', '#8d1b3d')
logos.append('path')
  .attr('d', 'M1257,1351 C1258,1342 1264,1338 1270,1339 C1274,1332 1290,1331 1293,1339 C1299,1340 1304,1344 1306,1353')
  .attr('fill', 'none').attr('stroke', '#8d1b3d').attr('stroke-width', 1.4)
logos.append('rect').attr('x', 1284).attr('y', 1341).attr('width', 7).attr('height', 20).attr('rx', 3.5)
  .attr('fill', '#fff').attr('stroke', '#8d1b3d').attr('stroke-width', 1.4)
logos.append('circle').attr('cx', 1287.5).attr('cy', 1361).attr('r', 4.5).attr('fill', '#8d1b3d')
logos.append('text').attr('x', 1316).attr('y', 1346).attr('font-size', 13.5).attr('font-family', 'Open Sans').attr('fill', '#a04a5f').text('Climate')
logos.append('text').attr('x', 1316).attr('y', 1361).attr('font-size', 13.5).attr('font-family', 'Open Sans').attr('fill', '#a04a5f').text('Change Service')

// ECMWF
logos.append('text').attr('x', 1458).attr('y', 1355).attr('font-size', 12.5).attr('font-family', 'Liberation Sans')
  .attr('fill', '#3a87bd').attr('textLength', 102).attr('lengthAdjust', 'spacingAndGlyphs').text('IMPLEMENTED BY')
;[1598, 1616].forEach(cx => {
  logos.append('circle').attr('cx', cx).attr('cy', 1351).attr('r', 23).attr('fill', '#1072b0')
})
;[1600, 1618].forEach(cx => {
  logos.append('circle').attr('cx', cx).attr('cy', 1351).attr('r', 10).attr('fill', '#fff')
})
logos.append('rect').attr('x', 1575).attr('y', 1346).attr('width', 30).attr('height', 3).attr('fill', '#fff')
logos.append('rect').attr('x', 1575).attr('y', 1353).attr('width', 30).attr('height', 3).attr('fill', '#fff')
logos.append('text').attr('x', 1644).attr('y', 1372).attr('font-size', 55).attr('font-weight', 700).attr('font-family', 'Liberation Sans')
  .attr('fill', '#1072b0').attr('textLength', 208).attr('lengthAdjust', 'spacingAndGlyphs').text('ECMWF')
</script>
</body>
</html>
